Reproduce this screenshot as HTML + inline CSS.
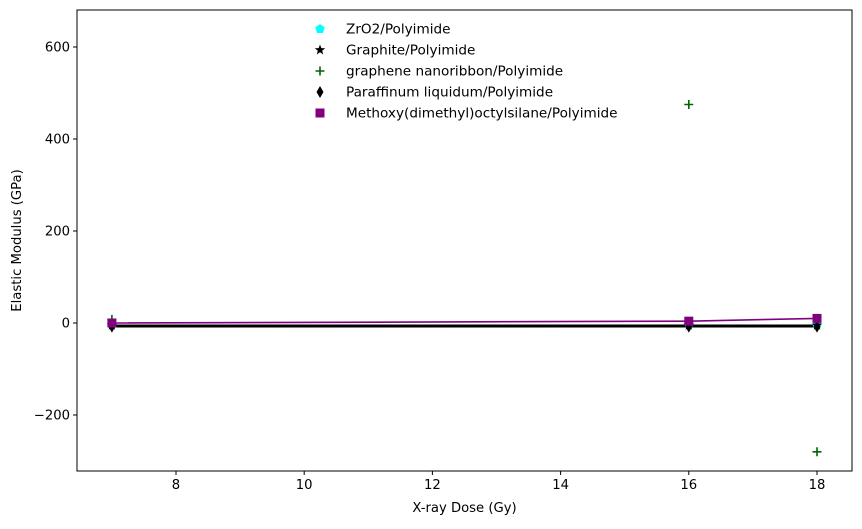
<!DOCTYPE html>
<html><head><meta charset="utf-8"><style>
body{margin:0;background:#fff;font-family:"DejaVu Sans",sans-serif;}
svg text{font-family:"DejaVu Sans",sans-serif;font-size:13.2px;fill:#000;}
svg text.lg{font-size:13.6px;}
</style></head><body>
<svg id="chart" width="862" height="525"></svg>
<script>
const doses=[7,16,18];
const zro2=[-3,-3,-5];
const graphite=[-5,-5,-5];
const nanoribbon=[8,475,-280];
const paraffin=[-8,-8,-8];
const methoxy=[0,4,10];
const xTicks=[8,10,12,14,16,18];
const yTicks=[-200,0,200,400,600];
const L=77,R=852,T=10,B=471;
const X=v=>176+(v-8)*64.1;
const Y=v=>323-v*0.46;
const NS='http://www.w3.org/2000/svg';
const svg=document.getElementById('chart');
function mk(t,a,p){const e=document.createElementNS(NS,t);for(const k in a)e.setAttribute(k,a[k]);(p||svg).appendChild(e);return e;}
const frame=mk('rect',{x:L,y:T,width:R-L,height:B-T,fill:'none',stroke:'#000','stroke-width':1});


xTicks.forEach(t=>{const x=X(t);mk('line',{x1:x,x2:x,y1:B,y2:B+4,stroke:'#000'});
const tx=mk('text',{x:x,y:B+18,'text-anchor':'middle'});tx.textContent=t;

});
yTicks.forEach(t=>{const y=Y(t);mk('line',{x1:L-4,x2:L,y1:y,y2:y,stroke:'#000'});
const tx=mk('text',{x:L-7,y:y+4.5,'text-anchor':'end'});tx.textContent=t<0?'\u2212'+(-t):t;

});
const xt=mk('text',{x:(L+R)/2,y:512,'text-anchor':'middle'});xt.textContent='X-ray Dose (Gy)';


const yt=mk('text',{x:21,y:(T+B)/2,'text-anchor':'middle',transform:`rotate(-90 21 ${(T+B)/2})`});yt.textContent='Elastic Modulus (GPa)';


function line(vals,color,name){const p=mk('polyline',{points:vals.map((v,i)=>X(doses[i])+','+Y(v)).join(' '),fill:'none',stroke:color,'stroke-width':1.6});

}
function marker(type,cx,cy,color){let e;
if(type==='pent'){const pts=[];for(let k=0;k<5;k++){const a=-Math.PI/2+k*2*Math.PI/5;pts.push((cx+5*Math.cos(a))+','+(cy+5*Math.sin(a)));}e=mk('polygon',{points:pts.join(' '),fill:color});}
else if(type==='star'){const pts=[];for(let k=0;k<10;k++){const r=k%2?2.3:5.5;const a=-Math.PI/2+k*Math.PI/5;pts.push((cx+r*Math.cos(a))+','+(cy+r*Math.sin(a)));}e=mk('polygon',{points:pts.join(' '),fill:color});}
else if(type==='plus'){e=mk('path',{d:`M${cx-4.5} ${cy}H${cx+4.5}M${cx} ${cy-4.5}V${cy+4.5}`,stroke:color,'stroke-width':1.6});}
else if(type==='diamond'){e=mk('polygon',{points:`${cx},${cy-6} ${cx+3.5},${cy} ${cx},${cy+6} ${cx-3.5},${cy}`,fill:color});}
else{e=mk('rect',{x:cx-4.5,y:cy-4.5,width:9,height:9,fill:color});}
return e;}
function series(vals,type,color,name){vals.forEach((v,i)=>{const m=marker(type,X(doses[i]),Y(v),color);

});}
line(graphite,'#000','graphite-line');
line(paraffin,'#000','paraffin-line');
line(methoxy,'#800080','methoxy-line');
series(zro2,'pent','cyan','zro2');
series(graphite,'star','#000','graphite');
series(nanoribbon,'plus','#006400','nanoribbon');
series(paraffin,'diamond','#000','paraffin');
series(methoxy,'sq','#800080','methoxy');
const leg=[['pent','cyan','ZrO2/Polyimide'],['star','#000','Graphite/Polyimide'],['plus','#006400','graphene nanoribbon/Polyimide'],['diamond','#000','Paraffinum liquidum/Polyimide'],['sq','#800080','Methoxy(dimethyl)octylsilane/Polyimide']];
leg.forEach((l,i)=>{const y=29+i*21;const m=marker(l[0],320,y,l[1]);


const t=mk('text',{x:346,y:y+4.5,class:'lg'});t.textContent=l[2];

});
</script>
</body></html>
